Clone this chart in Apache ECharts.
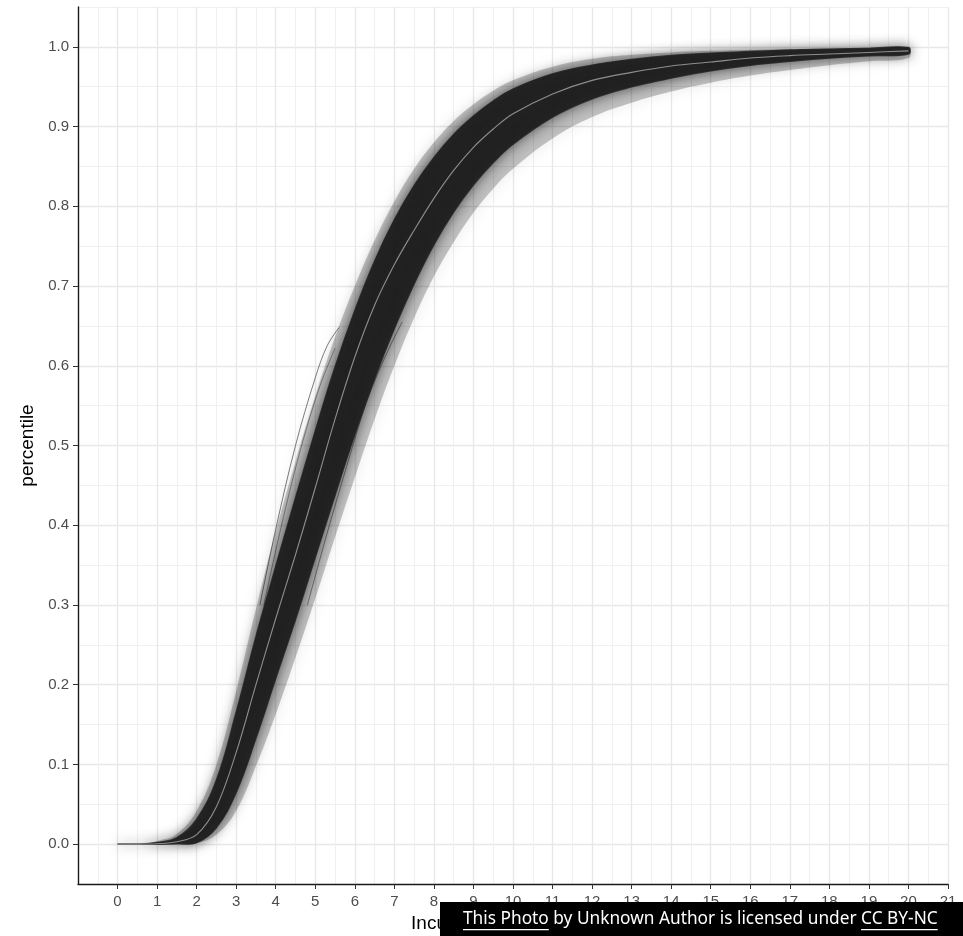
<!DOCTYPE html>
<html>
<head>
<meta charset="utf-8">
<script src="https://cdn.jsdelivr.net/npm/echarts@6/dist/echarts.min.js"></script>
<style>
html,body{margin:0;padding:0;background:#ffffff;}
#chart{width:963px;height:936px;}
</style>
</head>
<body>
<div id="chart"></div>
<script>
// ---- data ----
const xDays       = [0, 0.5, 1, 1.5, 2, 2.5, 3, 3.5, 4, 4.5, 5, 5.5, 6, 6.5, 7, 7.5, 8, 8.5, 9, 9.5, 10, 11, 12, 13, 14, 15, 16, 17, 18, 19, 20];
const medianCurve = [0, 0, 0.0005, 0.003, 0.012, 0.047, 0.115, 0.2, 0.283, 0.363, 0.447, 0.533, 0.611, 0.676, 0.727, 0.77, 0.81, 0.845, 0.874, 0.897, 0.916, 0.941, 0.958, 0.968, 0.976, 0.981, 0.986, 0.989, 0.991, 0.993, 0.995];
const coreUpper   = [0, 0, 0.002, 0.008, 0.031, 0.08, 0.165, 0.26, 0.348, 0.434, 0.518, 0.598, 0.669, 0.731, 0.783, 0.826, 0.861, 0.89, 0.913, 0.932, 0.947, 0.966, 0.977, 0.984, 0.989, 0.992, 0.994, 0.996, 0.997, 0.998, 0.999];
const coreLower   = [0, 0, 0, 0.0005, 0.002, 0.021, 0.065, 0.133, 0.208, 0.282, 0.36, 0.438, 0.514, 0.584, 0.647, 0.703, 0.752, 0.793, 0.827, 0.855, 0.878, 0.912, 0.935, 0.95, 0.961, 0.97, 0.977, 0.982, 0.986, 0.989, 0.991];
const outerUpper  = [0, 0, 0.004, 0.013, 0.042, 0.1, 0.192, 0.295, 0.392, 0.48, 0.562, 0.636, 0.7, 0.757, 0.806, 0.847, 0.88, 0.907, 0.928, 0.945, 0.958, 0.975, 0.985, 0.99, 0.993, 0.995, 0.996, 0.997, 0.998, 0.999, 0.999];
const outerLower  = [0, 0, 0, 0, 0.001, 0.012, 0.042, 0.098, 0.163, 0.234, 0.308, 0.385, 0.46, 0.533, 0.6, 0.66, 0.712, 0.755, 0.792, 0.822, 0.847, 0.885, 0.912, 0.93, 0.944, 0.955, 0.964, 0.971, 0.977, 0.982, 0.986];
// a few stray sample curves visible at the band edges
const strayLeftX   = [3.6, 4.0, 4.5, 5.0, 5.3, 5.6];
const strayLeftY   = [0.3, 0.395, 0.5, 0.585, 0.625, 0.648];
const strayLeft2X  = [3.7, 4.1, 4.6, 5.1, 5.5];
const strayLeft2Y  = [0.3, 0.39, 0.49, 0.572, 0.622];
const strayRightX  = [4.8, 5.3, 5.8, 6.3, 6.8, 7.2];
const strayRightY  = [0.3, 0.39, 0.475, 0.555, 0.615, 0.655];
const xTicks = [0,1,2,3,4,5,6,7,8,9,10,11,12,13,14,15,16,17,18,19,20,21];
const yTicks = [0,0.1,0.2,0.3,0.4,0.5,0.6,0.7,0.8,0.9,1.0];
const xTitle = 'Incubation period (days)';
const yTitle = 'percentile';
const creditText = 'This Photo by Unknown Author is licensed under CC BY-NC';

// ---- helpers building series from the arrays ----
const pairs = (xs, ys) => xs.map((x, i) => [x, ys[i]]);
const FONT = 'Liberation Sans, Arial, sans-serif';

function bandSeries(name, lower, upper, style, z) {
  return {
    type: 'custom', name: name, xAxisIndex: 0, yAxisIndex: 1, z: z, silent: true, animation: false,
    data: xDays.map((x, i) => [x, lower[i], upper[i]]),
    encode: { x: 0, y: [1, 2] },
    renderItem: function (params, api) {
      if (params.dataIndex !== 0) return null;
      const top = xDays.map((x, i) => api.coord([x, upper[i]]));
      const bot = xDays.map((x, i) => api.coord([x, lower[i]])).reverse();
      return { type: 'polygon', shape: { points: top.concat(bot), smooth: 0.4 }, style: style };
    }
  };
}
function lineSeries(name, xs, ys, lineStyle, z) {
  return { type: 'line', name: name, xAxisIndex: 0, yAxisIndex: 1, data: pairs(xs, ys),
           showSymbol: false, symbol: 'none', smooth: 0.35, lineStyle: lineStyle, z: z,
           silent: true, animation: false };
}

const chart = echarts.init(document.getElementById('chart'), null, { renderer: 'canvas' });

const option = {
  backgroundColor: '#ffffff',
  animation: false,
  grid: { left: 78, right: 15, top: 7, bottom: 52, containLabel: false, outerBoundsMode: 'none' },
  xAxis: [{
    type: 'value', min: -1, max: 21, interval: 1,
    axisLine: { show: true, onZero: false, lineStyle: { color: '#1a1a1a', width: 1.4 } },
    axisTick: { show: true, customValues: xTicks, length: 5, lineStyle: { color: '#333333', width: 1 } },
    axisLabel: { customValues: xTicks, formatter: v => String(v), color: '#4d4d4d', fontSize: 15, fontFamily: FONT, margin: 10 },
    splitLine: { show: true, lineStyle: { color: '#e8e8e8', width: 1.4 } },
    minorTick: { show: false, splitNumber: 2 },
    minorSplitLine: { show: true, lineStyle: { color: '#f0f0f0', width: 1 } },
    name: xTitle, nameLocation: 'middle', nameGap: 30,
    nameTextStyle: { color: '#000000', fontSize: 19, fontFamily: FONT, verticalAlign: 'top' }
  }],
  yAxis: [{
    type: 'value', min: -0.05, max: 1.05, interval: 0.05, position: 'left',
    axisLine: { show: false }, axisTick: { show: false }, axisLabel: { show: false },
    splitLine: { show: true, lineStyle: { color: '#f0f0f0', width: 1 } }
  }, {
    type: 'value', min: -0.05, max: 1.05, interval: 0.05, position: 'left',
    axisLine: { show: true, onZero: false, lineStyle: { color: '#1a1a1a', width: 1.4 } },
    axisTick: { show: true, customValues: yTicks, length: 5, lineStyle: { color: '#333333', width: 1 } },
    axisLabel: { customValues: yTicks, formatter: v => v.toFixed(1), color: '#4d4d4d', fontSize: 15, fontFamily: FONT, margin: 9 },
    splitLine: { show: true, lineStyle: { color: '#e8e8e8', width: 1.4 } },
    name: yTitle, nameLocation: 'middle', nameGap: 30,
    nameTextStyle: { color: '#000000', fontSize: 19, fontFamily: FONT }
  }],
  series: [
    bandSeries('outerBand', outerLower, outerUpper,
      { fill: 'rgba(0,0,0,0.22)', stroke: null, shadowBlur: 16, shadowColor: 'rgba(0,0,0,0.35)' }, 2),
    lineSeries('strayLeft', strayLeftX, strayLeftY, { width: 1, color: 'rgba(20,20,20,0.55)' }, 3),
    lineSeries('strayLeft2', strayLeft2X, strayLeft2Y, { width: 1, color: 'rgba(20,20,20,0.4)' }, 3),
    lineSeries('strayRight', strayRightX, strayRightY, { width: 1, color: 'rgba(20,20,20,0.45)' }, 3),
    bandSeries('coreBand', coreLower, coreUpper,
      { fill: 'rgba(28,28,28,0.9)', stroke: 'rgba(34,34,34,0.85)', lineWidth: 1.6, shadowBlur: 12, shadowColor: 'rgba(0,0,0,0.6)' }, 4),
    lineSeries('median', xDays, medianCurve, { width: 1.1, color: '#8e8e8e' }, 5)
  ],
  graphic: []
};

// credit banner (annotation overlaying the bottom of the picture)
const ctx = document.createElement('canvas').getContext('2d');
let bannerFontSize = 17;
ctx.font = bannerFontSize + 'px "Noto Sans", sans-serif';
bannerFontSize = bannerFontSize * 475 / ctx.measureText(creditText).width;
const bannerFont = bannerFontSize.toFixed(2) + 'px "Noto Sans", sans-serif';
ctx.font = bannerFont;
const fullW = ctx.measureText(creditText).width;
const startX = 463;
const w1 = ctx.measureText('This Photo').width;
const w2 = ctx.measureText('CC BY-NC').width;
option.graphic = [
  { type: 'rect', left: 440, top: 902, shape: { width: 523, height: 34 }, style: { fill: '#000000' }, z: 100 },
  { type: 'text', x: startX, y: 919, style: { text: creditText, fill: '#ffffff', font: bannerFont, verticalAlign: 'middle', align: 'left' }, z: 101 },
  { type: 'rect', x: startX, y: 929, shape: { width: w1, height: 1.3 }, style: { fill: '#ffffff' }, z: 101 },
  { type: 'rect', x: startX + fullW - w2, y: 929, shape: { width: w2, height: 1.3 }, style: { fill: '#ffffff' }, z: 101 }
];

chart.setOption(option);
</script>
</body>
</html>
